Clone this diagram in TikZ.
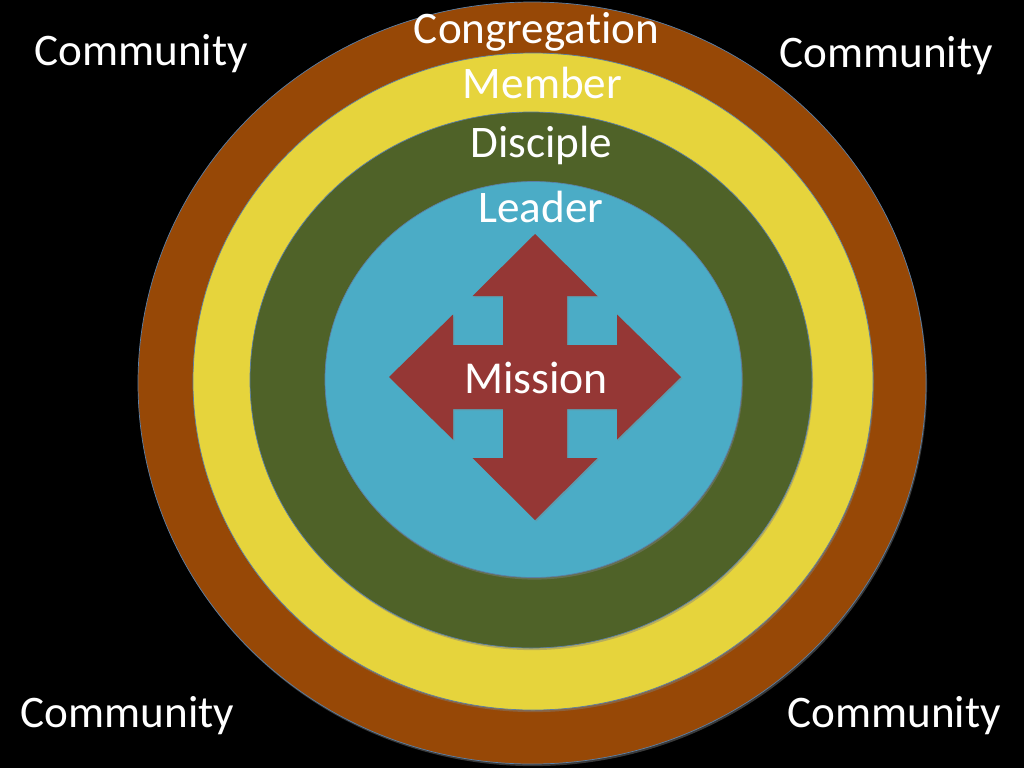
\documentclass[tikz,border=0pt]{standalone}
\usepackage{fontspec}
\setmainfont[Ligatures=NoCommon]{Carlito}
\usetikzlibrary{shadows}
\definecolor{ringbrown}{HTML}{974806}
\definecolor{ringyellow}{HTML}{E6D43C}
\definecolor{ringgreen}{HTML}{4F6228}
\definecolor{ringblue}{HTML}{4BACC6}
\definecolor{ringedge}{HTML}{5B7FA6}
\definecolor{arrowred}{HTML}{953735}

\begin{document}
\begin{tikzpicture}[x=0.02cm,y=-0.02cm,
  ring/.style={draw=ringedge,line width=0.4pt,
    drop shadow={opacity=0.45,shadow xshift=0.6pt,shadow yshift=-1.2pt}},
  label/.style={text=white,anchor=base,inner sep=0pt,
    font=\fontsize{25.7}{30}\selectfont},
  corner/.style={label}]
\fill[black] (0,0) rectangle (1024,768);
\useasboundingbox (0,0) rectangle (1024,768);

\draw[ring,fill=ringbrown]  (532,383)   ellipse [x radius=394,  y radius=381];
\draw[ring,fill=ringyellow] (533,381.5) ellipse [x radius=340,  y radius=328.5];
\draw[ring,fill=ringgreen]  (531,380)   ellipse [x radius=281,  y radius=268];
\draw[ring,fill=ringblue]   (533.5,379.5) ellipse [x radius=208.5, y radius=198];

\coordinate (hub) at (535,377);
\fill[arrowred,drop shadow={opacity=0.35,shadow xshift=0.8pt,shadow yshift=-0.8pt}]
  (hub) ++(0,-143) -- ++(62.5,62) -- ++(-30.5,0) -- ++(0,49) -- ++(50,0)
  -- ++(0,-30.5) -- ++(64,62.5) -- ++(-64,62.5) -- ++(0,-30.5) -- ++(-50,0)
  -- ++(0,49) -- ++(30.5,0) -- ++(-62.5,62) -- ++(-62.5,-62) -- ++(30.5,0)
  -- ++(0,-49) -- ++(-50,0) -- ++(0,30.5) -- ++(-64,-62.5) -- ++(64,-62.5)
  -- ++(0,30.5) -- ++(50,0) -- ++(0,-49) -- ++(-30.5,0) -- cycle;

\node[label] (congregation) at (536.5,43) {Congregation};
\node[label] (member)       at (542.5,98) {Member};
\node[label] (disciple)     at (541.5,157) {Disciple};
\node[label] (leader)       at (541,222) {Leader};
\node[label,font=\fontsize{26}{30}\selectfont] (mission) at (536,393) {Mission};

\node[corner] (commtl) at (141,65)  {Community};
\node[corner] (commtr) at (886,67)  {Community};
\node[corner] (commbl) at (127.5,727) {Community};
\node[corner] (commbr) at (894,727) {Community};
\end{tikzpicture}
\end{document}
